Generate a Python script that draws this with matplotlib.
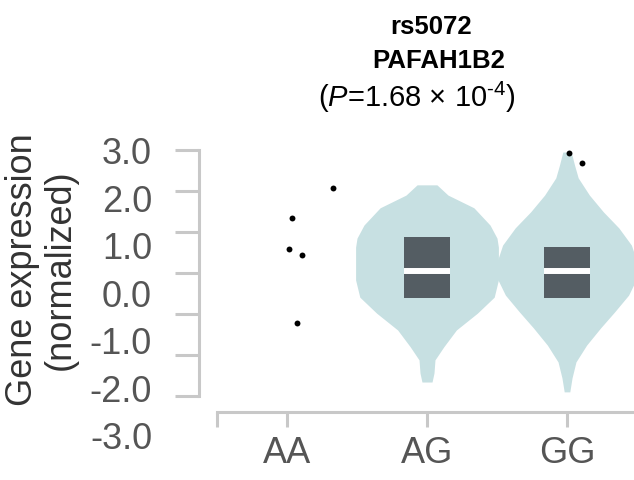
import matplotlib
matplotlib.use('Agg')
import matplotlib.pyplot as plt
from matplotlib import font_manager
import numpy as np

# genotype groups
categories = ['AA', 'AG', 'GG']
tick_vals = [3, 2, 1, 0, -1, -2, -3]
tick_labels = ['3.0', '2.0', '1.0', '0.0', '-1.0', '-2.0', '-3.0']

# violin outlines: y value and half width
ag_y = [2.15, 1.90, 1.59, 1.17, 0.85, 0.63, -0.17, -0.59, -0.98, -1.39, -1.80, -2.12, -2.44, -2.66]
ag_w = [0.071, 0.15, 0.335, 0.45, 0.50, 0.51, 0.51, 0.48, 0.36, 0.21, 0.12, 0.057, 0.05, 0.036]
gg_y = [2.95, 2.63, 2.32, 1.90, 1.49, 1.10, 0.68, 0.27, -0.12, -0.54, -0.95, -1.34, -1.76, -2.17, -2.56, -2.90]
gg_w = [0.03, 0.054, 0.08, 0.16, 0.26, 0.37, 0.46, 0.50, 0.50, 0.44, 0.34, 0.24, 0.14, 0.064, 0.036, 0.02]

# boxes (q1, median, q3)
box_pos = [1, 2]
box_q1 = [-0.61, -0.61]
box_med = [0.05, 0.05]
box_q3 = [0.88, 0.63]

# single points
pt_x = [0.036, 0.014, 0.107, 0.071, 0.33, 2.014, 2.107]
pt_y = [1.34, 0.59, 0.44, -1.22, 2.07, 2.93, 2.68]

names = {f.name for f in font_manager.fontManager.ttflist}
plt.rcParams['font.family'] = ['Liberation Sans', 'DejaVu Sans']
plt.rcParams['mathtext.fontset'] = 'custom'
plt.rcParams['mathtext.rm'] = 'Liberation Sans'
plt.rcParams['mathtext.it'] = 'Liberation Sans:italic'

violin_col = '#c7e0e2'
box_col = '#545d63'
axis_col = '#c8c8c8'
label_col = '#555555'

fig = plt.figure(figsize=(6.34, 4.8), dpi=100)
ax = fig.add_axes([217 / 634, 41 / 480, 420 / 634, 301.3 / 480])

for pos, ys, ws in [(1, ag_y, ag_w), (2, gg_y, gg_w)]:
    ys = np.array(ys)
    ws = np.array(ws)
    ax.fill_betweenx(ys, pos - ws, pos + ws, color=violin_col, lw=0, zorder=1)

ax.bar(box_pos, np.array(box_q3) - np.array(box_q1), bottom=box_q1, width=0.33,
       color=box_col, zorder=2)
ax.hlines(box_med, np.array(box_pos) - 0.165, np.array(box_pos) + 0.165,
          colors='white', lw=4.3, zorder=3)
ax.scatter(pt_x, pt_y, s=18, color='black', zorder=4, linewidths=0)

ax.set_xlim(-0.5, 2.5)
ax.set_ylim(-4.05, 3.3)

for s in ['top', 'right']:
    ax.spines[s].set_visible(False)
ax.spines['left'].set_position(('outward', 12.96))
ax.spines['left'].set_bounds(-3, 3)
ax.spines['bottom'].set_position(('data', -3.39))
ax.spines['bottom'].set_bounds(-0.5, 2.5)
for s in ['left', 'bottom']:
    ax.spines[s].set_color(axis_col)
    ax.spines[s].set_linewidth(2.2)

ax.set_xticks([-0.5, 0, 1, 2, 2.5], [''] + categories + [''])
ax.set_yticks(tick_vals, [''] * len(tick_vals))
ax.tick_params(axis='y', length=17.3, width=2.2, color=axis_col)
ax.tick_params(axis='x', length=10.8, width=2.2, color=axis_col, pad=6.6,
               labelsize=26, labelcolor=label_col)

# the labels sit on a slightly wider spacing than the tick marks
def fwd(y):
    return (20.5 + 41 * np.asarray(y)) / 47.5

def inv(v):
    return (47.5 * np.asarray(v) - 20.5) / 41

sec = ax.secondary_yaxis('left', functions=(fwd, inv))
sec.set_yticks(tick_vals, tick_labels)
sec.tick_params(length=0, pad=46.8, labelsize=26, labelcolor=label_col)
sec.spines['left'].set_visible(False)

fig.text(41 / 634, 1 - 270 / 480, 'Gene expression\n(normalized)', rotation=90,
         ha='center', va='center', fontsize=26, linespacing=1.1, color='#333333')

if 'Liberation Sans Narrow' in names:
    tfam, tsize = ['Liberation Sans Narrow', 'DejaVu Sans'], 19.5
else:
    tfam, tsize = ['Liberation Sans', 'DejaVu Sans'], 18.5
fig.text(431 / 634, 1 - 27 / 480, 'rs5072', ha='center', va='center',
         fontsize=tsize, fontweight='bold', family=tfam)
fig.text(439 / 634, 1 - 61 / 480, 'PAFAH1B2', ha='center', va='center',
         fontsize=tsize, fontweight='bold', family=tfam)
fig.text(417 / 634, 1 - 97 / 480, '($\\mathit{P}$=1.68 × 10$^{\u20104}$)', ha='center',
         va='center', fontsize=21)

fig.savefig('out.png', dpi=100)
